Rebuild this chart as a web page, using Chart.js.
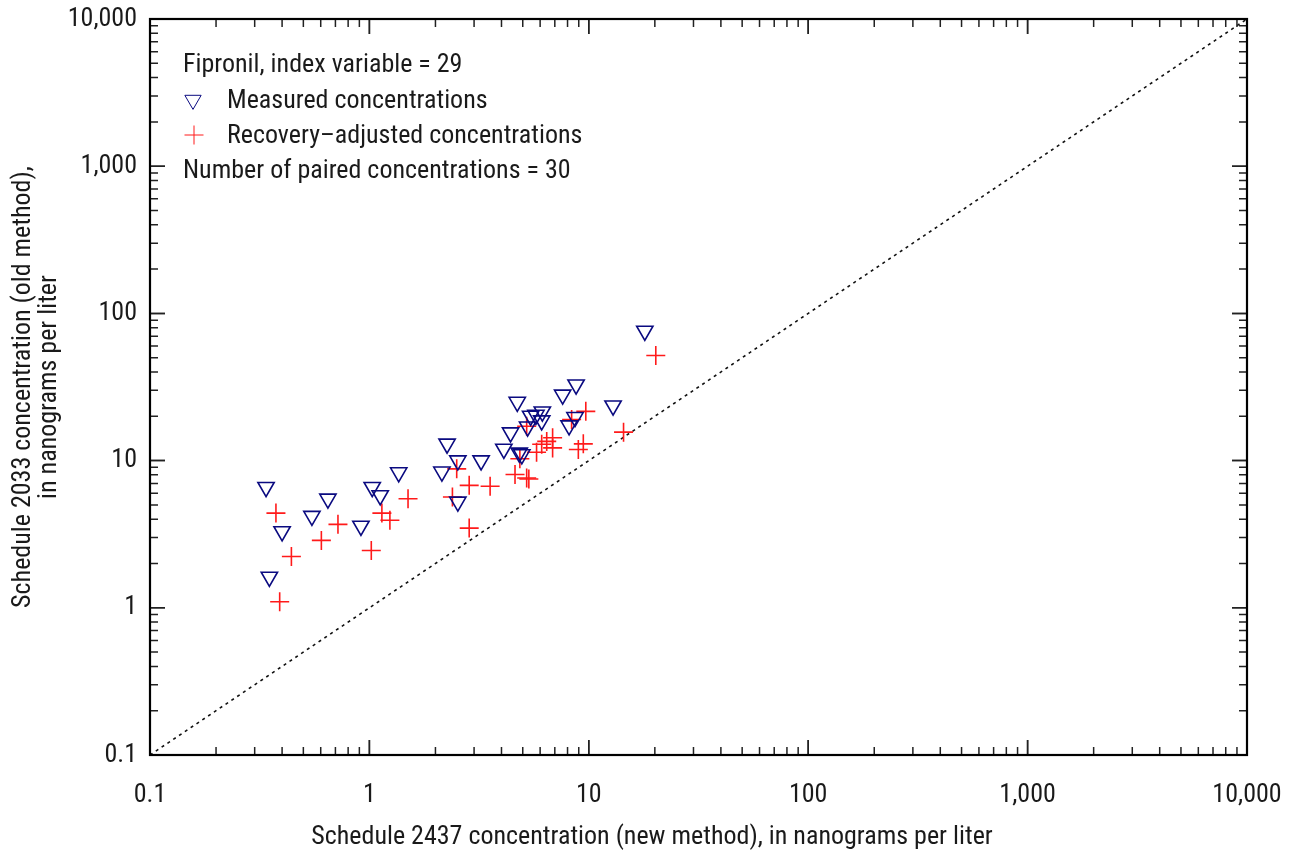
<!DOCTYPE html>
<html>
<head>
<meta charset="utf-8">
<script src="https://cdn.jsdelivr.net/npm/chart.js@4/dist/chart.umd.min.js"></script>
<style>
    html, body { margin: 0; padding: 0; background: #fff; }
</style>
</head>
<body>
<canvas id="chart" width="1292" height="860"></canvas>
<script>
const FONT = "'Roboto Condensed', 'Liberation Sans', sans-serif";
const FONT_SIZE = 26;

// tick labels
const tickValues = [0.1, 1, 10, 100, 1000, 10000];
const tickLabels = ['0.1', '1', '10', '100', '1,000', '10,000'];

// measured concentrations (triangles)
const measuredX = [0.338, 0.35, 0.40, 0.547, 0.647, 0.915, 1.03, 1.12, 1.36, 2.14, 2.26, 2.53, 2.53, 3.23, 4.72,
    4.40, 4.10, 4.82, 4.95, 5.26, 5.43, 6.14, 6.10, 5.74, 7.6, 8.75, 8.13, 8.65, 12.9, 18.0];
const measuredY = [6.6, 1.62, 3.3, 4.2, 5.5, 3.6, 6.6, 5.8, 8.3, 8.4, 13.0, 10.0, 5.25, 10.0, 25.0,
    15.5, 12.0, 11.3, 11.0, 17.0, 20.1, 21.5, 18.7, 20.4, 28.0, 32.8, 17.3, 19.7, 23.6, 76.0];

// recovery-adjusted concentrations (crosses)
const adjustedX = [0.375, 0.441, 0.390, 0.604, 0.719, 1.02, 1.14, 1.24, 1.50, 2.39, 2.50, 2.85, 2.85, 3.55, 4.61,
    5.21, 5.33, 4.85, 5.21, 5.78, 6.10, 6.43, 6.84, 6.84, 8.96, 9.44, 8.35, 9.69, 14.4, 20.2];
const adjustedY = [4.40, 2.23, 1.10, 2.87, 3.69, 2.45, 4.40, 3.93, 5.51, 5.66, 8.79, 6.79, 3.48, 6.7, 8.04,
    7.62, 7.5, 10.3, 17.1, 11.4, 12.9, 13.5, 14.3, 12.2, 11.9, 13.0, 19.0, 21.6, 15.6, 51.8];

// 1:1 line
const equalLine = [0.1, 10000];

const xTitle = 'Schedule 2437 concentration (new method), in nanograms per liter';
const yTitle = ['Schedule 2033 concentration (old method),', 'in nanograms per liter'];

const noteLines = [
    'Fipronil, index variable = 29',
    'Measured concentrations',
    'Recovery\u2013adjusted concentrations',
    'Number of paired concentrations = 30'
];

const colors = {
    measured: '#0a0a80',
    adjusted: '#ff1a1a',
    text: '#1a1a1a',
    axis: '#222222'
};

function toPoints(xs, ys) {
    return xs.map((x, i) => ({ x: x, y: ys[i] }));
}

// frame with inward major and minor ticks on all four sides
const framePlugin = {
    id: 'frame',
    afterDraw(chart) {
        const ctx = chart.ctx;
        const area = chart.chartArea;
        const xs = chart.scales.x;
        const ys = chart.scales.y;
        ctx.save();
        ctx.strokeStyle = colors.axis;
        ctx.lineWidth = 1.5;
        for (let d = 0.1; d < 10000; d *= 10) {
            for (let m = 1; m <= 10; m++) {
                const v = d * m;
                const len = (m === 1 || m === 10) ? 15 : 8;
                const px = xs.getPixelForValue(v);
                const py = ys.getPixelForValue(v);
                ctx.beginPath();
                ctx.moveTo(px, area.bottom); ctx.lineTo(px, area.bottom - len);
                ctx.moveTo(px, area.top); ctx.lineTo(px, area.top + len);
                ctx.moveTo(area.left, py); ctx.lineTo(area.left + len, py);
                ctx.moveTo(area.right, py); ctx.lineTo(area.right - len, py);
                ctx.stroke();
            }
        }
        ctx.lineWidth = 2.2;
        ctx.strokeStyle = '#000';
        ctx.strokeRect(area.left, area.top, area.right - area.left, area.bottom - area.top);
        ctx.restore();
    }
};

// legend block and x-axis title (the title sits left of the plot centre)
const notesPlugin = {
    id: 'notes',
    afterDraw(chart) {
        const ctx = chart.ctx;
        ctx.save();
        ctx.font = FONT_SIZE + 'px ' + FONT;
        ctx.fillStyle = colors.text;
        ctx.textBaseline = 'middle';
        ctx.fillText(noteLines[0], 183, 65);
        ctx.fillText(noteLines[1], 227, 101);
        ctx.fillText(noteLines[2], 227, 136);
        ctx.fillText(noteLines[3], 183, 171);

        ctx.textAlign = 'center';
        ctx.fillText(xTitle, 652, 837);

        ctx.fillStyle = 'rgba(0,0,0,0)';
        ctx.strokeStyle = colors.measured;
        Chart.helpers.drawPoint(ctx, { pointStyle: 'triangle', radius: 9.4, rotation: 180, borderWidth: 1.6 }, 193, 100);
        ctx.strokeStyle = colors.adjusted;
        Chart.helpers.drawPoint(ctx, { pointStyle: 'cross', radius: 9.5, rotation: 0, borderWidth: 1.6 }, 194, 135);
        ctx.restore();
    }
};

function fixPadding(s) {
    s.paddingLeft = 0;
    s.paddingRight = 0;
    s.paddingTop = 0;
    s.paddingBottom = 0;
}

const ctx = document.getElementById('chart').getContext('2d');

new Chart(ctx, {
    type: 'scatter',
    data: {
        datasets: [
            {
                label: 'Measured concentrations',
                data: toPoints(measuredX, measuredY),
                pointStyle: 'triangle',
                rotation: 180,
                radius: 9.4,
                hoverRadius: 9.4,
                borderColor: colors.measured,
                backgroundColor: 'rgba(0,0,0,0)',
                borderWidth: 1.6
            },
            {
                label: 'Recovery-adjusted concentrations',
                data: toPoints(adjustedX, adjustedY),
                pointStyle: 'cross',
                radius: 9.5,
                hoverRadius: 9.5,
                borderColor: colors.adjusted,
                backgroundColor: colors.adjusted,
                borderWidth: 1.6
            },
            {
                type: 'line',
                label: '1:1',
                data: toPoints(equalLine, equalLine),
                borderColor: '#111',
                borderWidth: 1.6,
                borderDash: [3, 4],
                pointRadius: 0,
                fill: false
            }
        ]
    },
    options: {
        responsive: false,
        animation: false,
        events: [],
        layout: { padding: { top: 19, right: 45, left: 0, bottom: 0 } },
        plugins: {
            legend: { display: false },
            tooltip: { enabled: false }
        },
        scales: {
            x: {
                type: 'logarithmic',
                position: 'bottom',
                min: 0.1,
                max: 10000,
                grid: { display: false, drawTicks: false },
                border: { display: false },
                afterBuildTicks: s => { s.ticks = tickValues.map(v => ({ value: v })); },
                afterFit: s => { s.height = 105; fixPadding(s); },
                ticks: {
                    autoSkip: false,
                    maxRotation: 0,
                    padding: 25,
                    color: colors.text,
                    font: { family: FONT, size: FONT_SIZE },
                    callback: (v, i) => tickLabels[i]
                },
                title: { display: false }
            },
            y: {
                type: 'logarithmic',
                position: 'left',
                min: 0.1,
                max: 10000,
                grid: { display: false, drawTicks: false },
                border: { display: false },
                afterBuildTicks: s => { s.ticks = tickValues.map(v => ({ value: v })); },
                afterFit: s => { s.width = 150; fixPadding(s); },
                ticks: {
                    autoSkip: false,
                    padding: 13,
                    color: colors.text,
                    font: { family: FONT, size: FONT_SIZE },
                    callback: (v, i) => tickLabels[i]
                },
                title: {
                    display: true,
                    text: yTitle,
                    color: colors.text,
                    font: { family: FONT, size: FONT_SIZE, lineHeight: 1 },
                    padding: { top: 10, bottom: 0 }
                }
            }
        }
    },
    plugins: [framePlugin, notesPlugin]
});
</script>
</body>
</html>
